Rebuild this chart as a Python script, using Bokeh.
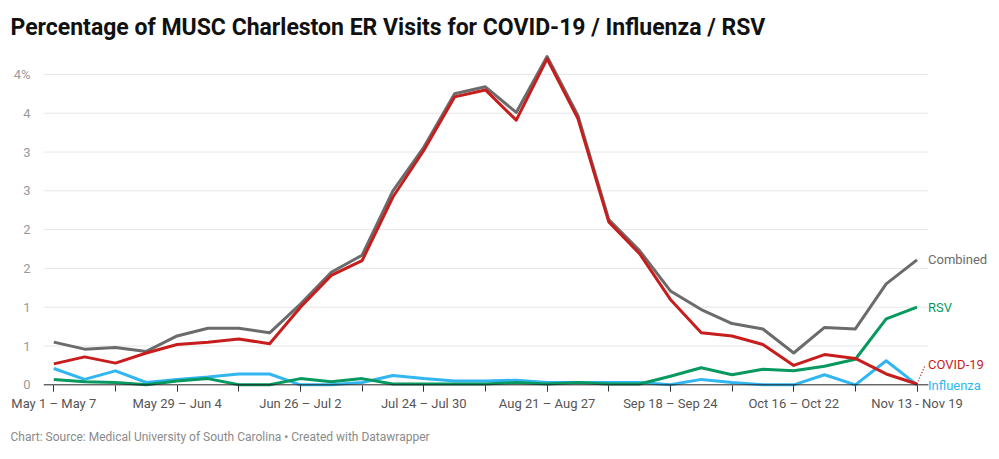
from bokeh.plotting import figure
from bokeh.models import Range1d, FixedTicker, ColumnDataSource, Title
from bokeh.core.properties import value
from bokeh.embed import file_html
from bokeh.resources import INLINE

# ---- data (percent of ER visits, weekly, May 1 - Nov 19) ----
week_index = list(range(29))
combined = [0.55, 0.46, 0.48, 0.43, 0.63, 0.73, 0.73, 0.67, 1.04, 1.45, 1.67, 2.50, 3.06, 3.75, 3.84,
            3.51, 4.23, 3.47, 2.13, 1.73, 1.21, 0.97, 0.79, 0.72, 0.41, 0.74, 0.72, 1.30, 1.61]
covid = [0.27, 0.36, 0.28, 0.41, 0.52, 0.55, 0.59, 0.53, 1.00, 1.41, 1.60, 2.42, 3.02, 3.71, 3.80,
         3.41, 4.20, 3.43, 2.10, 1.69, 1.10, 0.67, 0.63, 0.52, 0.25, 0.39, 0.34, 0.14, 0.01]
influenza = [0.21, 0.07, 0.18, 0.03, 0.07, 0.10, 0.14, 0.14, 0.00, 0.00, 0.03, 0.12, 0.08, 0.05, 0.05,
             0.06, 0.03, 0.03, 0.03, 0.03, 0.00, 0.07, 0.03, 0.00, 0.00, 0.13, 0.00, 0.31, 0.00]
rsv = [0.07, 0.04, 0.03, 0.00, 0.05, 0.08, 0.00, 0.00, 0.08, 0.04, 0.08, 0.01, 0.01, 0.01, 0.01,
       0.03, 0.01, 0.03, 0.01, 0.01, 0.11, 0.22, 0.13, 0.20, 0.18, 0.24, 0.33, 0.85, 1.00]

x_tick_positions = [0, 4, 8, 12, 16, 20, 24, 28]
x_tick_labels = ["May 1 \u2013 May 7", "May 29 \u2013 Jun 4", "Jun 26 \u2013 Jul 2", "Jul 24 \u2013 Jul 30",
                 "Aug 21 \u2013 Aug 27", "Sep 18 \u2013 Sep 24", "Oct 16 \u2013 Oct 22", "Nov 13 - Nov 19"]
x_minor_ticks = [0, 2, 4, 6, 8, 10, 12, 14, 16, 18, 20, 22, 24, 26, 28]
y_ticks = [0, 0.5, 1, 1.5, 2, 2.5, 3, 3.5, 4]
y_tick_labels = ["0", "1", "1", "2", "2", "3", "3", "4", "4%"]
series_names = ["Combined", "RSV", "COVID-19", "Influenza"]

title_text = "Percentage of MUSC Charleston ER Visits for COVID-19 / Influenza / RSV"
footer_text = "Chart: Source: Medical University of South Carolina \u2022 Created with Datawrapper"

C_GRAY = "#6b6b6b"
C_RED = "#c71e1d"
C_GREEN = "#07995f"
C_BLUE = "#31b6f2"
FONT = "Roboto"

X_LO, X_GRID_HI, X_HI = -0.334, 28.37, 30.675

p = figure(width=999, height=459, output_backend="svg", toolbar_location=None,
           x_range=Range1d(X_LO, X_HI), y_range=Range1d(-0.086, 4.308),
           min_border_left=43, min_border_right=0, min_border_top=50, min_border_bottom=68)
p.outline_line_color = None
p.background_fill_color = "white"
p.border_fill_color = "white"

# title
p.title.text = title_text
p.title.align = "left"
p.title.offset = -33
p.title.text_font = FONT
p.title.text_font_size = "23px"
p.title.text_font_style = "bold"
p.title.text_color = "#111111"
p.title.standoff = 20

# footer
p.add_layout(Title(text=footer_text, align="left", offset=-33, text_font=FONT,
                   text_font_size="12px", text_font_style="normal", text_color="#8a8a8a",
                   standoff=29), "below")

# grid (drawn as segments so it stops short of the direct labels)
p.xgrid.grid_line_color = None
p.ygrid.grid_line_color = None
p.segment(x0=[X_LO] * len(y_ticks[1:]), x1=[X_GRID_HI] * len(y_ticks[1:]),
          y0=y_ticks[1:], y1=y_ticks[1:], line_color="#e6e6e6", line_width=1)

# y axis
p.yaxis.ticker = FixedTicker(ticks=y_ticks)
p.yaxis.major_label_overrides = {t: l for t, l in zip(y_ticks, y_tick_labels)}
p.yaxis.axis_line_color = None
p.yaxis.major_tick_line_color = None
p.yaxis.minor_tick_line_color = None
p.yaxis.major_label_text_font = FONT
p.yaxis.major_label_text_font_size = "13px"
p.yaxis.major_label_text_color = "#9a9a9a"
p.yaxis.major_label_standoff = 7

# x axis
p.xaxis.ticker = FixedTicker(ticks=x_tick_positions, minor_ticks=x_minor_ticks)
p.xaxis.major_label_overrides = {t: l for t, l in zip(x_tick_positions, x_tick_labels)}
p.xaxis.axis_line_color = None
p.xaxis.major_tick_line_color = "#333333"
p.xaxis.minor_tick_line_color = "#333333"
p.xaxis.major_tick_in = 6
p.xaxis.major_tick_out = 0
p.xaxis.minor_tick_in = 6
p.xaxis.minor_tick_out = 0
p.xaxis.major_label_text_font = FONT
p.xaxis.major_label_text_font_size = "13px"
p.xaxis.major_label_text_color = "#555555"
p.xaxis.major_label_standoff = 4

src = ColumnDataSource(dict(x=week_index, combined=combined, covid=covid, influenza=influenza, rsv=rsv))
p.line("x", "combined", source=src, line_color=C_GRAY, line_width=3, line_join="round")
p.line("x", "influenza", source=src, line_color=C_BLUE, line_width=3, line_join="round")
p.line("x", "rsv", source=src, line_color=C_GREEN, line_width=3, line_join="round")
p.line("x", "covid", source=src, line_color=C_RED, line_width=3, line_join="round")

# baseline
p.segment(x0=[X_LO], x1=[X_GRID_HI], y0=[0], y1=[0], line_color="#222222", line_width=1)

# dotted leader line for COVID-19 label
last = week_index[-1]
p.segment(x0=[last], y0=[covid[-1]], x1=[last + 0.26], y1=[covid[-1] + 0.24],
          line_color=C_RED, line_width=1.3, line_dash="1 2")

# direct labels
lab = ColumnDataSource(dict(
    x=[last] * 4,
    y=[combined[-1], rsv[-1], covid[-1], influenza[-1]],
    text=series_names,
    color=[C_GRAY, C_GREEN, C_RED, C_BLUE],
    yoff=[0, 0, -20, 1],
))
p.text(x="x", y="y", text="text", source=lab, text_color="color", x_offset=11, y_offset="yoff",
       text_font=value(FONT), text_font_size="13px", text_baseline="middle", text_align="left")

open("out.html", "w").write(file_html(p, INLINE))
